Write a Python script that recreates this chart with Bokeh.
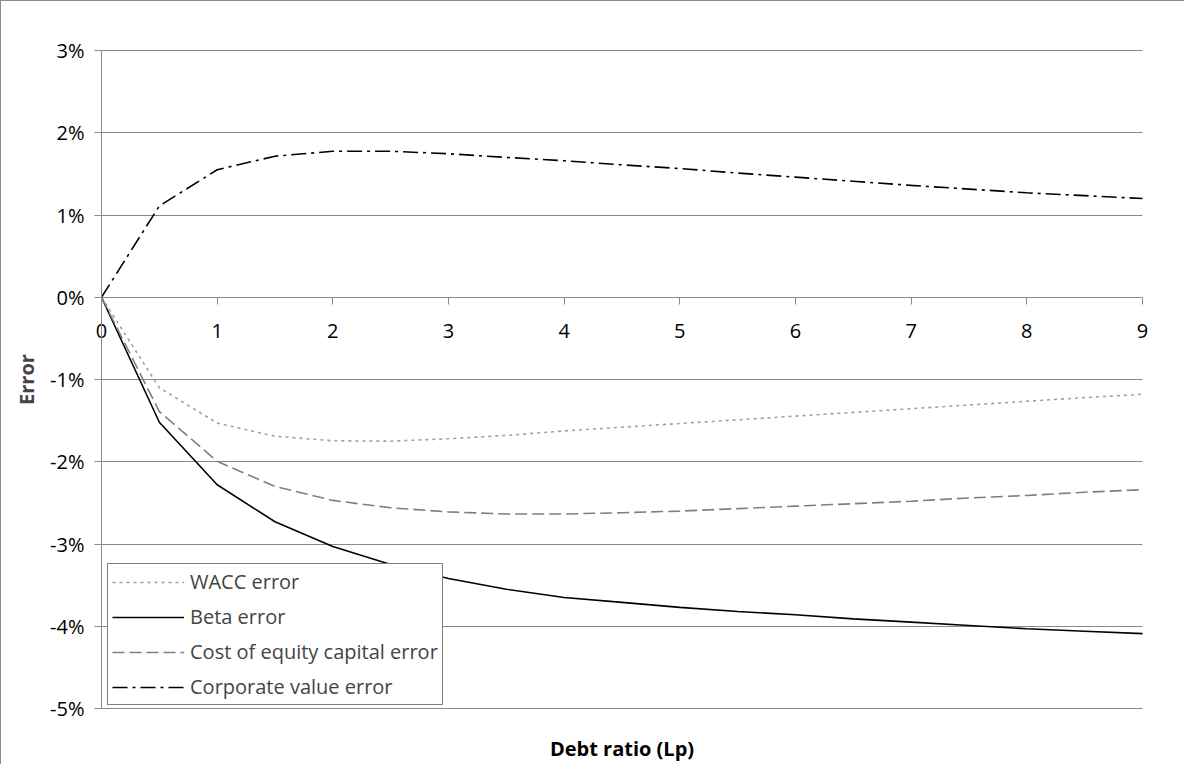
from bokeh.plotting import figure
from bokeh.models import (ColumnDataSource, Legend, LegendItem, NumeralTickFormatter,
                          FixedTicker, Range1d, Label)
from bokeh.embed import file_html
from bokeh.resources import INLINE

# ---- data (errors in percent) ----
debt_ratio = [0, 0.5, 1, 1.5, 2, 2.5, 3, 3.5, 4, 4.5, 5, 5.5, 6, 6.5, 7, 7.5, 8, 8.5, 9]
wacc_error = [0, -1.10, -1.53, -1.69, -1.745, -1.75, -1.72, -1.68, -1.625, -1.58,
              -1.535, -1.49, -1.445, -1.40, -1.355, -1.31, -1.265, -1.22, -1.18]
beta_error = [0, -1.52, -2.28, -2.73, -3.03, -3.25, -3.42, -3.55, -3.65, -3.71,
              -3.77, -3.82, -3.86, -3.91, -3.95, -3.99, -4.03, -4.06, -4.09]
cost_equity_error = [0, -1.39, -1.995, -2.30, -2.47, -2.56, -2.61, -2.635, -2.635, -2.62,
                     -2.60, -2.57, -2.54, -2.51, -2.48, -2.44, -2.41, -2.37, -2.34]
corporate_value_error = [0, 1.11, 1.55, 1.715, 1.775, 1.775, 1.745, 1.70, 1.66, 1.61,
                         1.565, 1.51, 1.46, 1.41, 1.36, 1.315, 1.27, 1.235, 1.20]
x_ticks = [0, 1, 2, 3, 4, 5, 6, 7, 8, 9]
y_ticks = [-0.05, -0.04, -0.03, -0.02, -0.01, 0.0, 0.01, 0.02, 0.03]
series_names = ["WACC error", "Beta error", "Cost of equity capital error", "Corporate value error"]
x_title = "Debt ratio (Lp)"
y_title = "Error"

FONT = "Open Sans"
GRID = "#8a8a8a"

# ---- layout (canvas pixels) ----
W, H = 1184, 764
PL, PR, PT, PB = 100, 1141, 49, 707   # plot-area edges inside the canvas

x_lo, x_hi = debt_ratio[0], debt_ratio[-1]
y_lo, y_hi = y_ticks[0], y_ticks[-1]
xpp = (x_hi - x_lo) / (PR - PL)
ypp = (y_hi - y_lo) / (PB - PT)

src = ColumnDataSource(dict(
    x=debt_ratio,
    wacc=[v / 100 for v in wacc_error],
    beta=[v / 100 for v in beta_error],
    coe=[v / 100 for v in cost_equity_error],
    cve=[v / 100 for v in corporate_value_error],
))

p = figure(width=W, height=H, output_backend="svg", toolbar_location=None,
           x_range=Range1d(x_lo - PL * xpp, x_hi + (W - PR) * xpp),
           y_range=Range1d(y_lo - (H - PB) * ypp, y_hi + PT * ypp),
           min_border=0, min_border_left=0, min_border_right=0,
           min_border_top=0, min_border_bottom=0)
p.styles = {"border-top": "1px solid #8c8c8c", "border-left": "1px solid #8c8c8c"}
p.outline_line_color = None
p.background_fill_color = "white"
p.border_fill_color = "white"

# x axis crossing at y = 0
xa = p.xaxis[0]
xa.fixed_location = 0
xa.bounds = (x_lo, x_hi)
xa.ticker = FixedTicker(ticks=x_ticks)
xa.axis_line_color = GRID
xa.major_tick_line_color = GRID
xa.major_tick_in = 0
xa.major_tick_out = 7
xa.minor_tick_line_color = None
xa.major_label_text_font = FONT
xa.major_label_text_font_size = "20px"
xa.major_label_text_color = "black"
xa.major_label_standoff = 20

# y axis at x = 0
ya = p.yaxis[0]
ya.fixed_location = x_lo
ya.bounds = (y_lo, y_hi)
ya.ticker = FixedTicker(ticks=y_ticks)
ya.formatter = NumeralTickFormatter(format="0%")
ya.axis_line_color = GRID
ya.major_tick_line_color = GRID
ya.major_tick_in = 0
ya.major_tick_out = 7
ya.minor_tick_line_color = None
ya.major_label_text_font = FONT
ya.major_label_text_font_size = "20px"
ya.major_label_text_color = "black"
ya.major_label_standoff = 10
ya.axis_label = y_title
ya.axis_label_text_font = FONT
ya.axis_label_text_font_style = "bold"
ya.axis_label_text_font_size = "20px"
ya.axis_label_standoff = 7

p.xgrid.visible = False
g = p.ygrid[0]
g.ticker = FixedTicker(ticks=y_ticks)
g.grid_line_color = GRID
g.grid_line_width = 1
g.bounds = (y_lo, y_hi)
if "cross_bounds" in g.properties():
    g.cross_bounds = (x_lo, x_hi)

# x axis title below the plot area
p.add_layout(Label(x=(x_lo + x_hi) / 2, y=y_lo, text=x_title, y_offset=-40,
                   text_align="center", text_baseline="middle",
                   text_font=FONT, text_font_style="bold", text_font_size="20px",
                   text_color="black"))

r_wacc = p.line("x", "wacc", source=src, line_color="#a0a0a0", line_width=1.6, line_dash="3 4")
r_beta = p.line("x", "beta", source=src, line_color="black", line_width=1.6)
r_coe = p.line("x", "coe", source=src, line_color="#7f7f7f", line_width=1.6, line_dash="12 5")
r_cve = p.line("x", "cve", source=src, line_color="black", line_width=1.6, line_dash="15 5 3 5")

legend = Legend(items=[LegendItem(label=series_names[0], renderers=[r_wacc]),
                       LegendItem(label=series_names[1], renderers=[r_beta]),
                       LegendItem(label=series_names[2], renderers=[r_coe]),
                       LegendItem(label=series_names[3], renderers=[r_cve])],
                location=(PL + 6, H - PB + 3), orientation="vertical",
                border_line_color="black", border_line_width=1,
                background_fill_color="white", background_fill_alpha=1,
                label_text_font=FONT, label_text_font_size="20px",
                glyph_width=72, glyph_height=26, label_height=26, label_standoff=6,
                spacing=8, padding=4, margin=0)
p.add_layout(legend, "center")

open("out.html", "w").write(file_html(p, INLINE))
